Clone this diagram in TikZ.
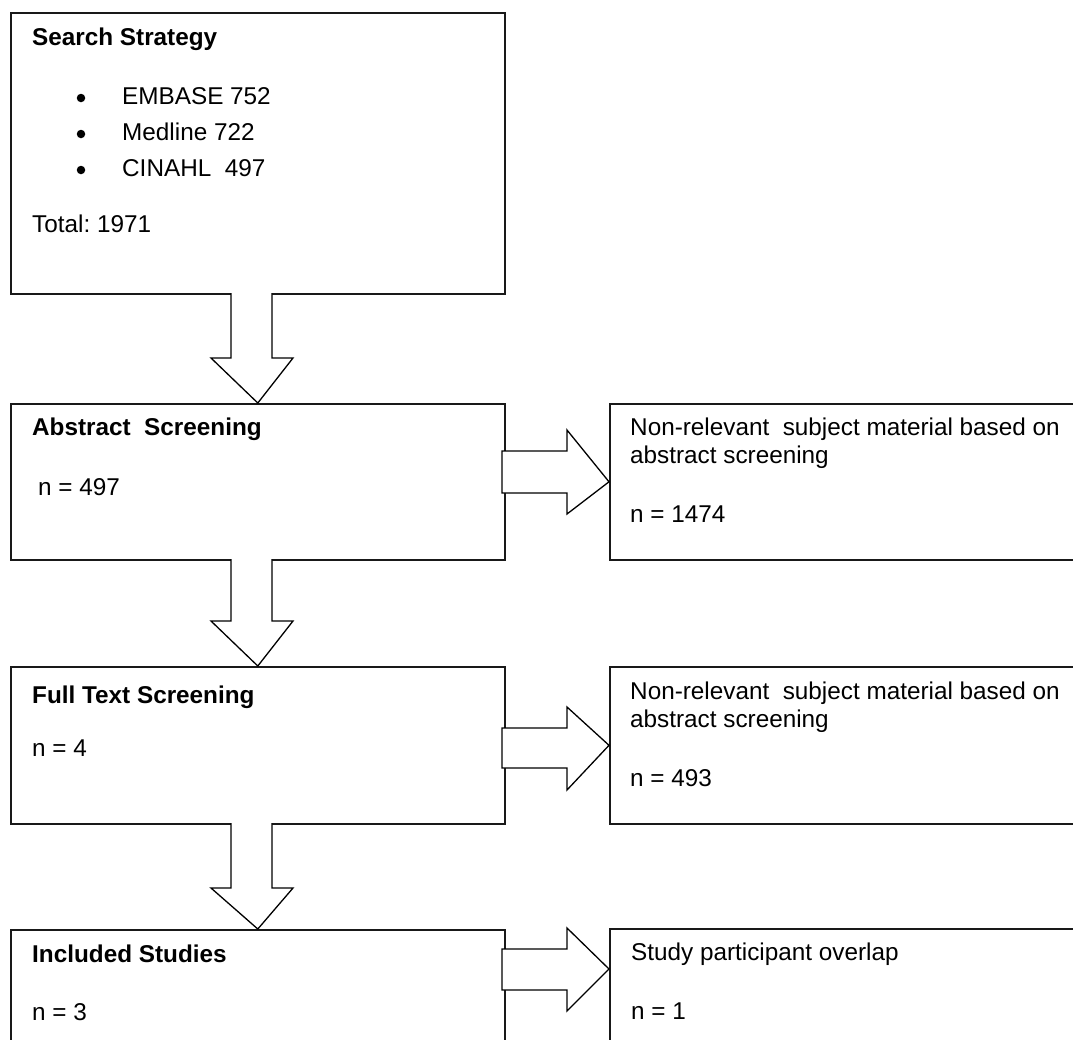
\documentclass[tikz,border=0pt]{standalone}
\usepackage{fontspec}
\setmainfont{Liberation Sans}
\begin{document}
\begin{tikzpicture}[x=1pt,y=-1pt,
  box/.style={draw=black!90,line width=1.6pt,rectangle,inner sep=0pt,anchor=north west},
  txt/.style={anchor=base west,inner sep=0pt,font=\fontsize{24.3}{28}\selectfont},
  btxt/.style={txt,font=\fontsize{24.3}{28}\selectfont\bfseries},
  bul/.style={circle,fill=black,inner sep=0pt,minimum size=8.5pt},
  fat/.style={draw=black,line width=1.3pt,fill=white,line join=miter}]
\useasboundingbox (0,0) rectangle (1073,1039);
\clip (0,0) rectangle (1073,1039);
% boxes
\node[box,minimum width=494pt,minimum height=281pt] (search) at (10,12) {};
\node[box,minimum width=494pt,minimum height=156pt] (abs) at (10,403) {};
\node[box,minimum width=470pt,minimum height=156pt] (nr1) at (609,403) {};
\node[box,minimum width=494pt,minimum height=157pt] (full) at (10,666) {};
\node[box,minimum width=470pt,minimum height=157pt] (nr2) at (609,666) {};
\node[box,minimum width=494pt,minimum height=140pt] (incl) at (10,929) {};
\node[box,minimum width=470pt,minimum height=140pt] (ovl) at (609,928) {};
% texts
\node[btxt] (t1) at (32,45) {Search Strategy};
\node[bul] (b1) at (81,98) {};
\node[bul] (b2) at (81,134) {};
\node[bul] (b3) at (81,170) {};
\node[txt] (i1) at (122,104) {EMBASE 752};
\node[txt] (i2) at (122,140) {Medline 722};
\node[txt] (i3) at (122,176) {CINAHL\ \ 497};
\node[txt] (tot) at (32,232) {Total:\ 1971};
\node[btxt] (t2) at (32,435) {Abstract\ \ Screening};
\node[txt] (n2) at (38,495) {n = 497};
\node[txt] (r1a) at (630,435) {Non-relevant\ \ subject material based on};
\node[txt] (r1b) at (630,463) {abstract screening};
\node[txt] (r1c) at (630,522) {n = 1474};
\node[btxt] (t3) at (32,703) {Full Text Screening};
\node[txt] (n3) at (32,756) {n = 4};
\node[txt] (r2a) at (630,699) {Non-relevant\ \ subject material based on};
\node[txt] (r2b) at (630,727) {abstract screening};
\node[txt] (r2c) at (630,786) {n = 493};
\node[btxt] (t4) at (32,962) {Included Studies};
\node[txt] (n4) at (32,1020) {n = 3};
\node[txt] (r3a) at (631,960) {Study participant overlap};
\node[txt] (r3b) at (631,1019) {n = 1};
% down block arrows
\draw[fat] (231,293) -- (231,358) -- (211,358) -- (abs.north) -- (293,358) -- (272,358) -- (272,293);
\draw[fat] (231,559) -- (231,621) -- (211,621) -- (full.north) -- (293,621) -- (272,621) -- (272,559);
\draw[fat] (231,823) -- (231,888) -- (211,888) -- (incl.north) -- (293,888) -- (272,888) -- (272,823);
% right block arrows
\draw[fat] (502,451) -- (567,451) -- (567,430) -- (nr1.west) -- (567,514) -- (567,493) -- (502,493) -- cycle;
\draw[fat] (502,728) -- (567,728) -- (567,707) -- (nr2.west) -- (567,790) -- (567,768) -- (502,768) -- cycle;
\draw[fat] (502,949) -- (567,949) -- (567,928) -- (609,969) -- (567,1011) -- (567,990) -- (502,990) -- cycle;
\end{tikzpicture}
\end{document}
